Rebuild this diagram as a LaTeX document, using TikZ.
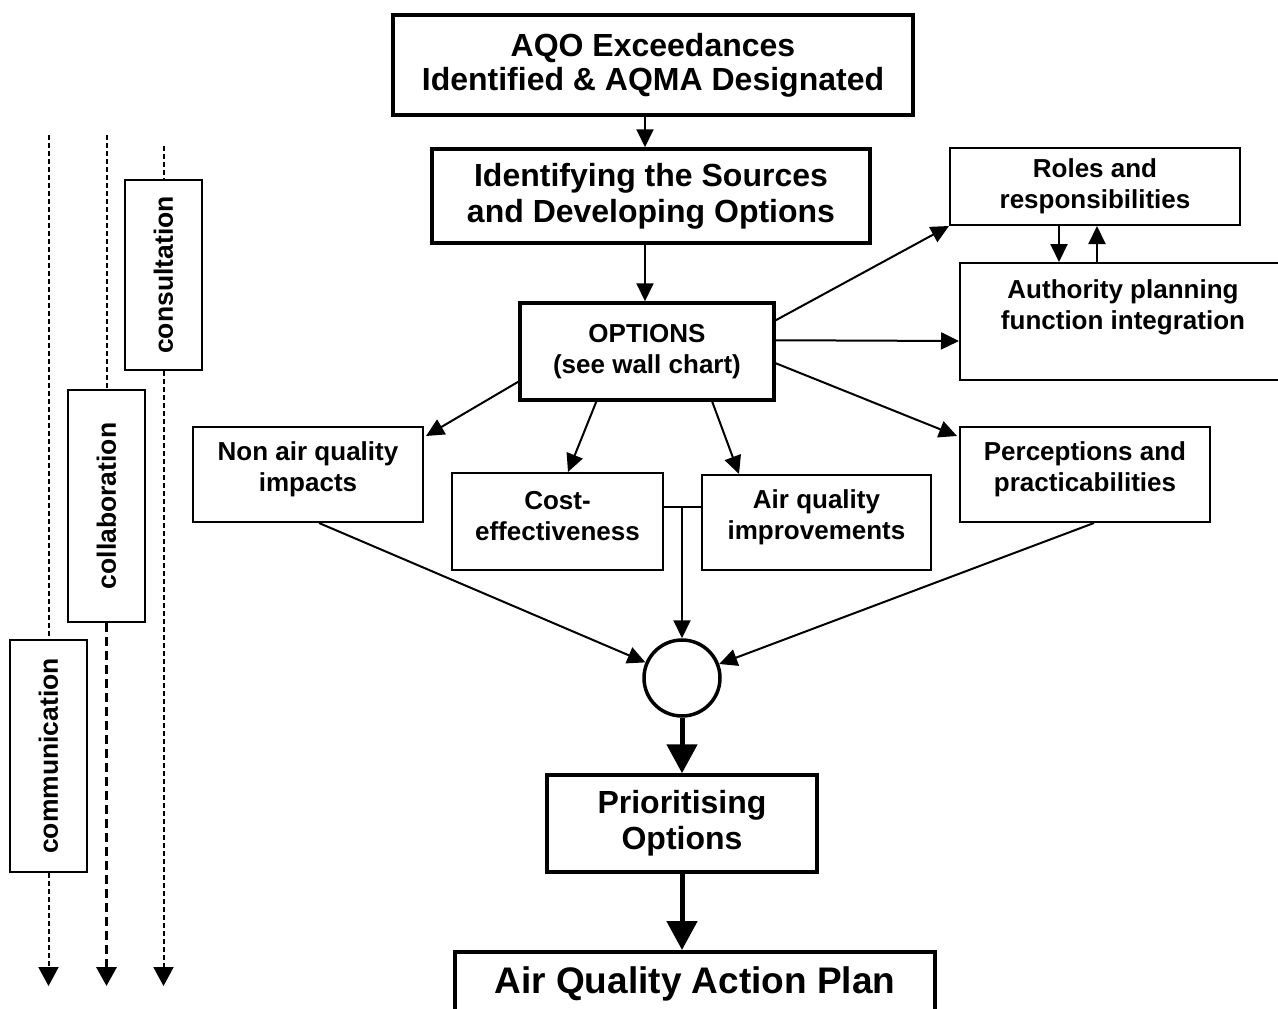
\documentclass[tikz,border=0pt]{standalone}
\usepackage{fontspec}
\setmainfont{Liberation Sans}
\usetikzlibrary{arrows.meta,calc}
\begin{document}
\begin{tikzpicture}[x=1pt,y=-1pt,
  thickbox/.style={draw, line width=3.5pt, inner sep=0pt},
  thinbox/.style={draw, line width=2pt, inner sep=0pt},
  bigtxt/.style={font=\fontsize{32}{36}\selectfont\bfseries, align=center},
  medtxt/.style={font=\fontsize{26}{31}\selectfont\bfseries, align=center},
  sidetxt/.style={font=\fontsize{26.5}{30}\selectfont\bfseries, rotate=90},
  huge txt/.style={font=\fontsize{37}{42}\selectfont\bfseries, align=center},
  arr/.style={-{Triangle[length=18pt,width=17pt]}, line width=2pt},
  bigarr/.style={-{Triangle[length=29pt,width=30pt]}, line width=5pt},
  dashplain/.style={line width=2pt, dash pattern=on 5pt off 3pt},
  dashline/.style={dashplain, -{Triangle[length=19pt,width=20pt]}},
  dashthick/.style={line width=3.5pt, dash pattern=on 9pt off 5pt, -{Triangle[length=19pt,width=20pt]}}
]
\useasboundingbox (0,0) rectangle (1278,1009);
\clip (0,0) rectangle (1278,1009);

% main column
\node[thickbox, minimum width=520pt, minimum height=100pt, bigtxt] (aqo) at (653,65)
  {\raisebox{-2pt}{AQO Exceedances}\\Identified \& AQMA Designated};
\node[thickbox, minimum width=438pt, minimum height=94pt, bigtxt] (ident) at (651,196)
  {Identifying the Sources\\and Developing Options};
\node[thickbox, minimum width=254pt, minimum height=97pt, medtxt] (opt) at (647,351.5)
  {OPTIONS\\(see wall chart)};

% right boxes
\node[thinbox, minimum width=290pt, minimum height=77pt, medtxt] (roles) at (1095,186.5)
  {Roles and\\responsibilities};
\node[thinbox, minimum width=340pt, minimum height=117pt] (auth) at (1130,321.5) {};
\node[medtxt] (authtext) at (1123,307) {Authority planning\\function integration};

% criteria boxes
\node[thinbox, minimum width=230pt, minimum height=95pt,
  label={[medtxt, yshift=5pt]center:Non air quality\\impacts}] (nonair) at (308,474.5) {};
\node[thinbox, minimum width=211pt, minimum height=97pt,
  label={[medtxt, yshift=5pt]center:Cost-\\effectiveness}] (cost) at (557.5,521.5) {};
\node[thinbox, minimum width=229pt, minimum height=95pt,
  label={[medtxt, yshift=5pt]center:Air quality\\improvements}] (airq) at (816.5,522.5) {};
\node[thinbox, minimum width=250pt, minimum height=95pt,
  label={[medtxt, yshift=5pt]center:Perceptions and\\practicabilities}] (perc) at (1085,474.5) {};

% merge circle
\node[draw, circle, line width=3.5pt, minimum size=76pt, inner sep=0pt] (circ) at (682,678) {};

\node[thickbox, minimum width=270pt, minimum height=97pt, bigtxt] (prio) at (682,823.5)
  {Prioritising\\Options};
\node[thickbox, minimum width=480pt, minimum height=70pt, huge txt, anchor=north] (aqap) at (695,950)
  {\raisebox{14pt}{Air Quality Action Plan}};

% side boxes
\node[thinbox, minimum width=190pt, minimum height=77pt, sidetxt] (consult) at (163.5,275) {consultation};
\node[thinbox, minimum width=232pt, minimum height=77pt, sidetxt] (collab) at (106.5,506) {collaboration};
\node[thinbox, minimum width=232pt, minimum height=77pt, sidetxt] (comm) at (48.5,756) {communication};

% dashed lines
\coordinate (d1top) at (48.5,135);
\coordinate (d1end) at (48.5,986);
\coordinate (d2top) at (106.5,135);
\coordinate (d2end) at (106.5,986);
\coordinate (d3top) at (163.5,146);
\coordinate (d3end) at (163.5,986);
\draw[dashplain] (d1top) -- (comm.east);
\draw[dashline] (comm.west) -- (d1end);
\draw[dashplain] (d2top) -- (collab.east);
\draw[dashthick] (collab.west) -- (d2end);
\draw[dashplain] (d3top) -- (consult.east);
\draw[dashline] (consult.west) -- (d3end);

% main arrows
\coordinate (colA) at (645,0);
\coordinate (colB) at (682,0);
\draw[arr] (aqo.south -| colA) -- (ident.north -| colA);
\draw[arr] (ident.south -| colA) -- (opt.north -| colA);

\draw[arr] ($(opt.north east)+(0,19)$) -- (roles.south west);
\draw[arr] ($(opt.north east)+(0,39)$) -- ($(auth.north west)+(0,79)$);
\draw[arr] ($(opt.north east)+(0,62)$) -- ($(perc.north west)+(-2,10)$);
\draw[arr] ($(opt.south west)+(0,-20)$) -- ($(nonair.north east)+(2,10)$);
\draw[arr] ($(opt.south west)+(78,0)$) -- ($(cost.north west)+(117,0)$);
\draw[arr] ($(opt.south west)+(194,0)$) -- ($(airq.north west)+(38,0)$);

% roles <-> authority
\draw[arr] ($(roles.south west)+(110,0)$) -- ($(auth.north west)+(100,0)$);
\draw[arr] ($(auth.north west)+(138,0)$) -- ($(roles.south west)+(148,0)$);

% junction to circle
\coordinate (jn) at (682,507);
\draw[line width=2pt] (cost.east |- jn) -- (airq.west |- jn);
\draw[arr] (jn) -- (circ.north);

\draw[arr] ($(nonair.south west)+(127,0)$) -- (circ);
\draw[arr] ($(perc.south west)+(135,0)$) -- (circ);

\draw[bigarr] (circ.south) -- (prio.north);
\draw[bigarr] (prio.south) -- (aqap.north -| colB);
\end{tikzpicture}
\end{document}
